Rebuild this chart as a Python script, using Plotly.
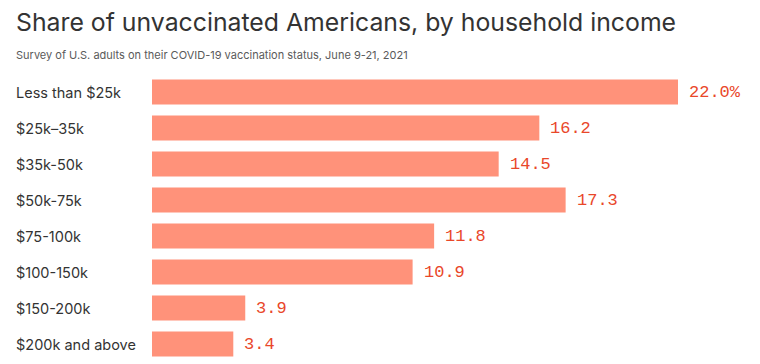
import plotly.graph_objects as go

categories = ["Less than $25k", "$25k–35k", "$35k-50k", "$50k-75k", "$75-100k",
              "$100-150k", "$150-200k", "$200k and above"]
values = [22.0, 16.2, 14.5, 17.3, 11.8, 10.9, 3.9, 3.4]
value_labels = ["22.0%", "16.2", "14.5", "17.3", "11.8", "10.9", "3.9", "3.4"]

# page body has an 8px margin, so the figure is drawn 8px smaller and offset
OFF = 8
W, H = 760 - OFF, 364 - OFF
L, R, T, B = 152 - OFF, 0, 74 - OFF, 2
plot_w = W - L - R
plot_h = H - T - B
px_per_unit = 526 / 22.0

def px_x(px):
    return (px - OFF - L) / plot_w

def px_y(py):
    return 1 + (T - (py - OFF)) / plot_h

fig = go.Figure(go.Bar(
    x=values, y=categories, orientation="h",
    marker=dict(color="#ff927a", line=dict(width=0)),
    hoverinfo="skip",
))

for c in categories:
    fig.add_annotation(
        x=px_x(14), xref="paper", y=c, yref="y",
        text=c, showarrow=False, xanchor="left", yanchor="middle",
        font=dict(family="Inter, Roboto, sans-serif", size=14.5, color="#333333"),
    )
for v, t, c in zip(values, value_labels, categories):
    fig.add_annotation(
        x=v, xref="x", y=c, yref="y", text=t, showarrow=False,
        xanchor="left", yanchor="middle", xshift=9,
        font=dict(family="Liberation Mono, Courier New, monospace", size=17, color="#e9472a"),
    )

fig.add_annotation(
    x=px_x(14), xref="paper", y=px_y(22), yref="paper", yanchor="middle", xanchor="left",
    text="Share of unvaccinated Americans, by household income", showarrow=False,
    font=dict(family="Inter, Roboto, sans-serif", size=24.8, color="#333333"),
)
fig.add_annotation(
    x=px_x(14), xref="paper", y=px_y(55), yref="paper",
    xanchor="left", yanchor="middle", showarrow=False,
    text="Survey of U.S. adults on their COVID-19 vaccination status, June 9-21, 2021",
    font=dict(family="Inter, Roboto, sans-serif", size=11, color="#5a5a5a"),
)

fig.update_layout(
    width=W, height=H,
    margin=dict(l=L, r=R, t=T, b=B, pad=0),
    paper_bgcolor="white", plot_bgcolor="white",
    bargap=0.3,
    showlegend=False,
    xaxis=dict(range=[0, plot_w / px_per_unit], visible=False, fixedrange=True),
    yaxis=dict(categoryorder="array", categoryarray=categories, autorange="reversed",
               visible=False, fixedrange=True),
)

fig.write_html("out.html", config=dict(displayModeBar=False))
